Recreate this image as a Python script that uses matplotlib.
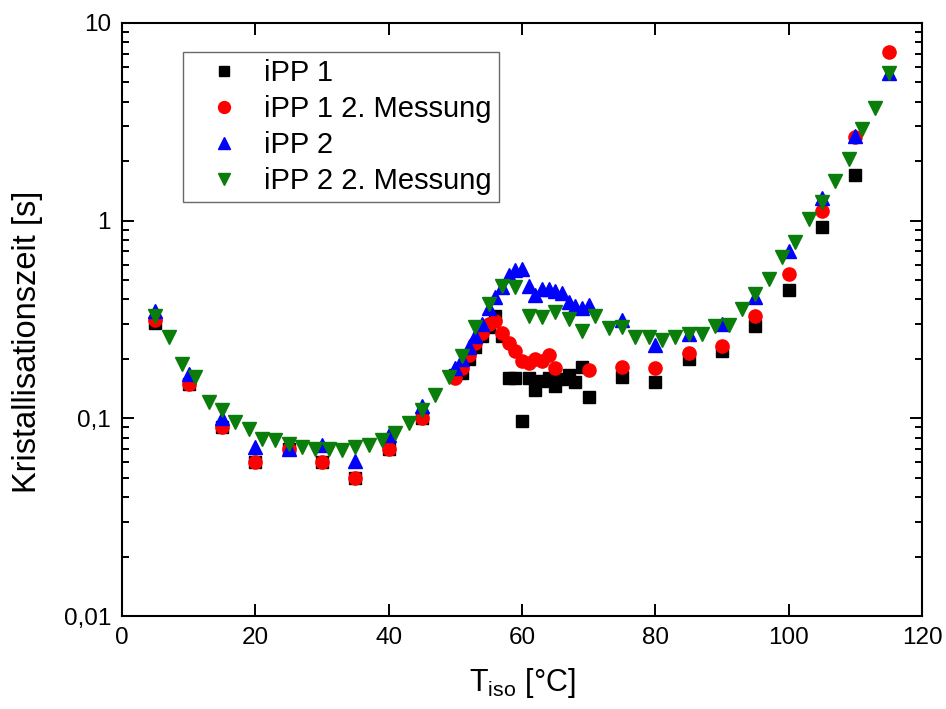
import matplotlib
matplotlib.use("Agg")
import matplotlib.pyplot as plt
from matplotlib.ticker import FixedLocator, LogLocator, NullFormatter, FuncFormatter

plt.rcParams['font.family'] = ['Liberation Sans', 'DejaVu Sans']

# iPP 1
t_ipp1 = [5, 10, 15, 20, 25, 30, 35, 40, 45, 50, 51, 52, 53, 54, 55, 56, 57,
          58, 59, 60, 61, 62, 63, 64, 65, 66, 67, 68, 69, 70, 75, 80, 85, 90,
          95, 100, 105, 110]
k_ipp1 = [0.305, 0.15, 0.09, 0.06, 0.07, 0.06, 0.05, 0.07, 0.1, 0.165, 0.17,
          0.2, 0.23, 0.26, 0.29, 0.33, 0.26, 0.16, 0.16, 0.097, 0.16, 0.14,
          0.155, 0.16, 0.145, 0.158, 0.165, 0.152, 0.182, 0.128, 0.162, 0.153,
          0.2, 0.22, 0.295, 0.447, 0.933, 1.71]

# iPP 1, 2. Messung
t_ipp1b = [5, 10, 15, 20, 25, 30, 35, 40, 45, 50, 51, 52, 53, 54, 55, 56, 57,
           58, 59, 60, 61, 62, 63, 64, 65, 70, 75, 80, 85, 90, 95, 100, 105,
           110, 115]
k_ipp1b = [0.313, 0.15, 0.09, 0.06, 0.07, 0.06, 0.05, 0.07, 0.1, 0.16, 0.18,
           0.21, 0.24, 0.27, 0.3, 0.31, 0.27, 0.24, 0.22, 0.195, 0.19, 0.2,
           0.195, 0.21, 0.18, 0.175, 0.183, 0.18, 0.215, 0.232, 0.33, 0.538,
           1.12, 2.64, 7.1]

# iPP 2
t_ipp2 = [5, 10, 15, 20, 25, 30, 35, 40, 45, 50, 51, 52, 53, 54, 55, 56, 57,
          58, 59, 60, 61, 62, 63, 64, 65, 66, 67, 68, 69, 70, 75, 80, 85, 90,
          95, 100, 105, 110, 115]
k_ipp2 = [0.35, 0.168, 0.1, 0.072, 0.07, 0.073, 0.061, 0.082, 0.116, 0.18,
          0.2, 0.23, 0.26, 0.3, 0.36, 0.41, 0.46, 0.53, 0.56, 0.57, 0.47,
          0.42, 0.45, 0.45, 0.44, 0.43, 0.39, 0.37, 0.36, 0.375, 0.315, 0.234,
          0.268, 0.3, 0.41, 0.705, 1.31, 2.69, 5.6]

# iPP 2, 2. Messung
t_ipp2b = [5, 7, 9, 11, 13, 15, 17, 19, 21, 23, 25, 27, 29, 31, 33, 35, 37,
           39, 41, 43, 45, 47, 49, 51, 53, 55, 57, 59, 61, 63, 65, 67, 69, 71,
           73, 75, 77, 79, 81, 83, 85, 87, 89, 91, 93, 95, 97, 99, 101, 103,
           105, 107, 109, 111, 113, 115]
k_ipp2b = [0.331, 0.257, 0.189, 0.162, 0.121, 0.11, 0.096, 0.088, 0.079,
           0.078, 0.0745, 0.0717, 0.0703, 0.0703, 0.0689, 0.0717, 0.073, 0.078,
           0.0843, 0.0947, 0.11, 0.131, 0.162, 0.208, 0.289, 0.38, 0.47, 0.46,
           0.331, 0.325, 0.345, 0.319, 0.278, 0.331, 0.288, 0.289, 0.257,
           0.257, 0.248, 0.257, 0.268, 0.268, 0.295, 0.297, 0.358, 0.426,
           0.508, 0.653, 0.777, 1.02, 1.24, 1.59, 2.05, 2.9, 3.73, 5.61]

x_ticks = [0, 20, 40, 60, 80, 100, 120]
y_ticks = [0.01, 0.1, 1, 10]

fig = plt.figure(figsize=(9.46, 7.09), dpi=100)
ax = fig.add_axes([0.129, 0.131, 0.8456, 0.8366])

ax.plot(t_ipp1, k_ipp1, ls='none', marker='s', ms=8.5, color='black',
        mec='black', label='iPP 1')
ax.plot(t_ipp1b, k_ipp1b, ls='none', marker='o', ms=9.5, color='#ff0000',
        mec='#ff0000', label='iPP 1 2. Messung')
ax.plot(t_ipp2, k_ipp2, ls='none', marker='^', ms=10, color='#0000ff',
        mec='#0000ff', label='iPP 2')
ax.plot(t_ipp2b, k_ipp2b, ls='none', marker='v', ms=10, color='#0a7d0a',
        mec='#0a7d0a', label='iPP 2 2. Messung')

ax.set_yscale('log')
ax.set_xlim(0, 120)
ax.set_ylim(0.01, 10)

ax.xaxis.set_major_locator(FixedLocator(x_ticks))
ax.yaxis.set_major_locator(FixedLocator(y_ticks))
ax.yaxis.set_minor_locator(LogLocator(base=10, subs=range(2, 10)))
ax.yaxis.set_minor_formatter(NullFormatter())
ax.yaxis.set_major_formatter(FuncFormatter(
    lambda v, p: ('%g' % v).replace('.', ',')))

ax.tick_params(which='both', direction='in', top=True, right=True,
               width=1.4, labelsize=17.5, pad=8)
ax.tick_params(which='major', length=8.6)
ax.tick_params(which='minor', length=5)
for s in ax.spines.values():
    s.set_linewidth(1.5)

ax.set_xlabel(r'T$_{\mathregular{iso}}$ [°C]', fontsize=22, labelpad=12)
ax.set_ylabel('Kristallisationszeit [s]', fontsize=23.5)
ax.yaxis.set_label_coords(-0.099, 0.462)

leg = ax.legend(loc='upper left', bbox_to_anchor=(0.076, 0.951),
                fontsize=21, frameon=True, fancybox=False, borderpad=0.25,
                labelspacing=0.27, handletextpad=0.18, handlelength=2.34,
                borderaxespad=0.0, markerscale=0.9)
leg.get_frame().set_edgecolor('#444444')
leg.get_frame().set_linewidth(1.0)

fig.savefig('out.png', dpi=100)
